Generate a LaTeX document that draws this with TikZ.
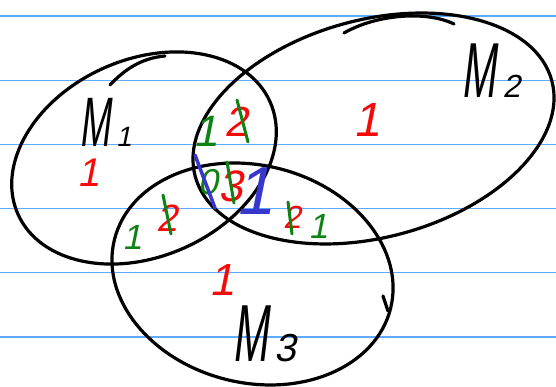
\documentclass[tikz,border=0pt]{standalone}
\usepackage{fontspec}
\usepackage{graphicx}
\setmainfont{Liberation Sans}
% slanted sans faces standing in for handwriting
\newfontfamily\hand[FakeSlant=0.2]{Liberation Sans}
\newfontfamily\handM[FakeSlant=0.12,FakeStretch=0.53]{Liberation Sans}

\definecolor{ruleblue}{RGB}{95,172,255}
\definecolor{inkred}{RGB}{245,10,10}
\definecolor{inkgreen}{RGB}{15,130,20}
\definecolor{inkblue}{RGB}{55,55,205}

\tikzset{
  ruling/.style={draw=ruleblue, line width=1.3pt},
  setline/.style={draw=black, line width=3.2pt, line cap=round},
  digit/.style={inner sep=0pt, font=\hand\fontsize{#1}{#1}\selectfont},
  strike/.style={line width=3pt, line cap=round},
  setlabel/.style={anchor=base west, inner sep=0pt, text=black}
}

\begin{document}
\begin{tikzpicture}[x=1pt,y=1pt]
  \useasboundingbox (0,0) rectangle (556,387);
  \fill[white] (0,0) rectangle (556,387);

  % ruled paper
  \foreach \yy in {371,306.8,242.6,178.4,114.2,50}
    \draw[ruling] (0,\yy) -- (556,\yy);

  % the three sets
  \coordinate (c1) at (144,229);
  \coordinate (c2) at (373.5,258.5);
  \coordinate (c3) at (252.5,113);
  \draw[setline, rotate around={24:(c1)}] (c1) ellipse [x radius=138pt, y radius=98.5pt];
  \draw[setline, rotate around={15:(c2)}] (c2) ellipse [x radius=184.6pt, y radius=108.8pt];
  \draw[setline, rotate around={-14:(c3)}] (c3) ellipse [x radius=142.3pt, y radius=108.7pt];

  % overshooting pen strokes where each outline was closed
  \draw[setline] (110,302) .. controls (125,318) and (142,329) .. (165,331);
  \draw[setline] (344,354) .. controls (375,372) and (425,377) .. (454,363);
  \draw[setline] (383,91) -- (388,76);

  % set names
  \node[setlabel] (m1) at (79,240) {\handM\fontsize{70}{70}\selectfont M\hspace{6pt}{\hand\fontsize{28}{28}\selectfont 1}};
  \node[setlabel] (m2) at (461,289) {\handM\fontsize{78}{78}\selectfont M\hspace{7pt}{\hand\fontsize{32}{32}\selectfont 2}};
  \node[setlabel] (m3) at (232,25) {\handM\fontsize{81}{81}\selectfont M\hspace{7pt}{\hand\fontsize{39}{39}\selectfont 3}};

  % counts in the single regions
  \node[digit=40, text=inkred] (r1) at (89,214) {1};
  \node[digit=48, text=inkred] (r2) at (367,267) {1};
  \node[digit=45, text=inkred] (r3) at (222,107) {1};

  % M1 and M2
  \node[digit=44, text=inkgreen] (g12) at (206,256) {1};
  \node[digit=42, text=inkred] (r12) at (236,265) {2};
  % M1 and M3
  \node[digit=35, text=inkgreen] (g13) at (132,150) {1};
  \node[digit=38, text=inkred] (r13) at (167,169) {2};
  % M2 and M3
  \node[digit=32, text=inkred] (r23) at (292,170) {2};
  \node[digit=35, text=inkgreen] (g23) at (318,161) {1};
  % all three
  \node[digit=36, text=inkgreen] (g123) at (208,205) {0};
  \node[digit=44, text=inkred] (r123) at (231,201) {3};
  \node[digit=68, text=inkblue] (b123) at (254,196) {1};

  % corrections
  \draw[strike, inkgreen] (237,287) -- (248,245);
  \draw[strike, inkgreen] (163,192) -- (171,153);
  \draw[strike, inkgreen] (288,185) -- (292,153);
  \draw[strike, inkgreen] (227,225) -- (234,184);
  \draw[strike, inkblue, line width=3.5pt] (195,232) -- (215,179);
\end{tikzpicture}
\end{document}
